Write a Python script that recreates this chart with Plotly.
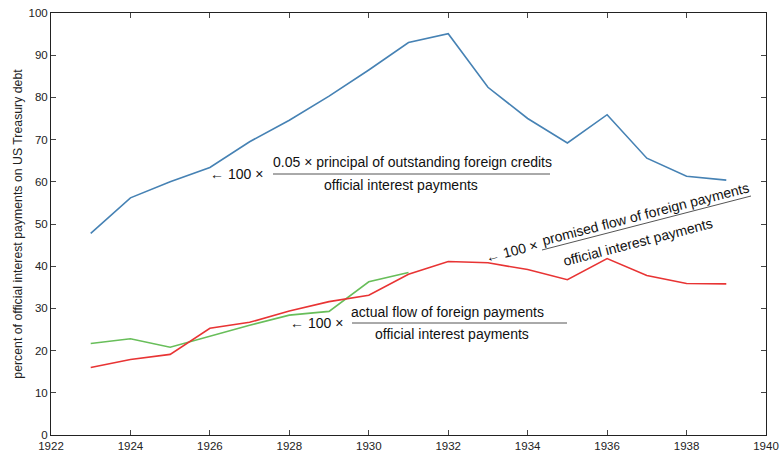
import plotly.graph_objects as go

years = list(range(1923, 1940))
principal_ratio = [47.8, 56.2, 60.0, 63.4, 69.5, 74.6, 80.3, 86.5, 93.0, 95.1, 82.4, 75.0, 69.2, 75.9, 65.6, 61.3, 60.4]
promised_ratio = [16.0, 17.9, 19.1, 25.3, 26.7, 29.4, 31.6, 33.1, 38.1, 41.1, 40.8, 39.2, 36.8, 41.8, 37.8, 35.9, 35.8]
actual_years = list(range(1923, 1932))
actual_ratio = [21.7, 22.8, 20.8, 23.4, 26.0, 28.4, 29.3, 36.3, 38.5]

x_ticks = list(range(1922, 1941, 2))
y_ticks = list(range(0, 101, 10))

blue = "rgb(70,130,180)"
red = "rgb(232,52,52)"
green = "rgb(104,190,90)"
font = "Liberation Sans, Arial, Helvetica, sans-serif"

fig = go.Figure()
fig.add_trace(go.Scatter(x=years, y=principal_ratio, mode="lines", line=dict(color=blue, width=1.6)))
fig.add_trace(go.Scatter(x=actual_years, y=actual_ratio, mode="lines", line=dict(color=green, width=1.6)))
fig.add_trace(go.Scatter(x=years, y=promised_ratio, mode="lines", line=dict(color=red, width=1.6)))

ann = []
shapes = []

# pixel box of the plot area
W0, W1, H0, H1 = 51, 766, 13, 435
def px(x):
    return (x - W0) / (W1 - W0)
def py(y):
    return (H1 - y) / (H1 - H0)

def add_text(x, y, t, angle=0, size=14):
    ann.append(dict(x=px(x), y=py(y), xref="paper", yref="paper", text=t, showarrow=False,
                    textangle=angle, font=dict(size=size, color="#111", family=font),
                    xanchor="center", yanchor="middle"))

def add_line(x0, y0, x1, y1):
    shapes.append(dict(type="line", xref="paper", yref="paper", x0=px(x0), y0=py(y0), x1=px(x1), y1=py(y1),
                       line=dict(color="#555", width=1)))

add_text(236, 174, "\u2190 100 \u00d7")
add_text(412, 162, "0.05 \u00d7 principal of outstanding foreign credits")
add_line(273, 174, 550, 174)
add_text(401, 185, "official interest payments")

add_text(316, 323, "\u2190 100 \u00d7")
add_text(447, 312, "actual flow of foreign payments")
add_line(352, 323, 567, 323)
add_text(452, 334, "official interest payments")

ang = -14.5
add_text(512, 251, "\u2190 100 \u00d7", angle=ang)
add_text(645, 214, "promised flow of foreign payments", angle=ang)
add_line(542, 250, 751, 196)
add_text(638, 242, "official interest payments", angle=ang)

FW, FH = 780, 458
fig.update_layout(
    width=FW, height=FH,
    margin=dict(l=W0, r=FW - W1, t=H0, b=FH - H1),
    paper_bgcolor="white", plot_bgcolor="white",
    showlegend=False,
    font=dict(family=font, size=11, color="#222"),
    annotations=ann, shapes=shapes,
)
fig.update_xaxes(range=[1922, 1940], tickvals=x_ticks, ticks="inside", ticklen=5, tickcolor="#444",
                 showline=True, linecolor="#222", linewidth=1, mirror="ticks", showgrid=False, zeroline=False,
                 tickfont=dict(size=11.5, color="#222"), automargin=False, ticklabeloverflow="allow")
fig.update_yaxes(range=[0, 100], tickvals=y_ticks, ticks="inside", ticklen=5, tickcolor="#444",
                 showline=True, linecolor="#222", linewidth=1, mirror="ticks", showgrid=False, zeroline=False,
                 tickfont=dict(size=11.5, color="#222"), automargin=False, ticklabeloverflow="allow",
                 title=dict(text="percent of official interest payments on US Treasury debt", font=dict(size=12.3, color="#222"), standoff=3))

fig.write_html("out.html", config={"displayModeBar": False},
               post_script="document.body.style.margin='0';document.body.style.overflow='hidden';")
